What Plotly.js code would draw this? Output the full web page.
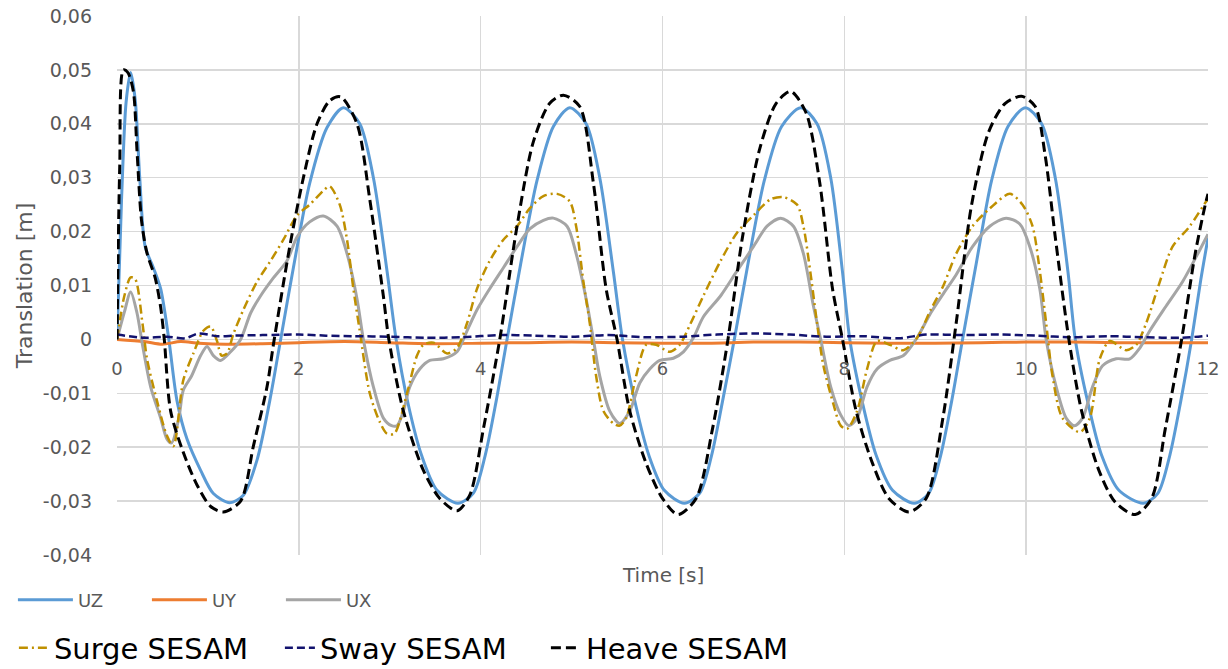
<!DOCTYPE html>
<html><head><meta charset="utf-8">
<script src="https://cdn.plot.ly/plotly-3.0.1.min.js"></script>
<style>html,body{margin:0;padding:0;background:#fff}</style>
</head><body>
<div id="chart" style="width:1228px;height:669px"></div>
<script>
// ---- data ----
const uzT = [0,0.05,0.10,0.15,0.20,0.25,0.31,0.40,0.48,0.57,0.66,0.77,0.92,1.06,1.24,1.39,1.54,1.68,1.80,1.94,2.12,2.31,2.49,2.67,2.82,2.97,3.07,3.20,3.35,3.52,3.75,3.92,4.05,4.17,4.29,4.44,4.62,4.80,4.98,5.16,5.31,5.46,5.56,5.70,5.85,6.02,6.24,6.41,6.54,6.66,6.79,6.94,7.12,7.31,7.52,7.70,7.85,7.98,8.06,8.20,8.35,8.53,8.77,8.93,9.06,9.18,9.30,9.45,9.62,9.80,9.99,10.17,10.32,10.46,10.54,10.68,10.83,11.02,11.29,11.45,11.58,11.70,11.82,11.92,12.00];
const uzV = [0,0.026,0.044,0.0495,0.0445,0.030,0.0172,0.0133,0.0094,0,-0.0114,-0.0185,-0.0243,-0.0286,-0.0303,-0.0289,-0.0224,-0.0114,0,0.0133,0.029,0.0393,0.043,0.040,0.030,0.0127,0,-0.0118,-0.0215,-0.0280,-0.0304,-0.0285,-0.0215,-0.0115,0,0.0140,0.0295,0.0395,0.043,0.040,0.030,0.0125,0,-0.0118,-0.0215,-0.0280,-0.0304,-0.0285,-0.0215,-0.0115,0,0.0140,0.0295,0.0395,0.043,0.040,0.030,0.0125,0,-0.0118,-0.0215,-0.0280,-0.0304,-0.0285,-0.0215,-0.0115,0,0.0140,0.0295,0.0395,0.043,0.040,0.030,0.0125,0,-0.0118,-0.0215,-0.0280,-0.0304,-0.0285,-0.0215,-0.0115,0,0.011,0.0188];

const uyT = [0,0.3,0.5,0.7,0.9,1.2,1.6,2.0,2.5,3.0,3.5,4.0,4.5,5.0,5.5,6.0,6.5,7.0,7.5,8.0,8.5,9.0,9.5,10.0,10.5,11.0,11.5,12.0];
const uyV = [0,-0.0004,-0.0009,-0.0004,-0.0007,-0.0009,-0.0008,-0.0006,-0.0004,-0.0006,-0.0008,-0.0007,-0.0006,-0.0005,-0.0006,-0.0007,-0.0007,-0.0005,-0.0005,-0.0006,-0.0007,-0.0007,-0.0006,-0.0005,-0.0005,-0.0006,-0.0006,-0.0006];

const uxT = [0,0.08,0.15,0.22,0.28,0.37,0.48,0.55,0.60,0.68,0.73,0.82,0.92,0.99,1.06,1.14,1.25,1.36,1.47,1.58,1.72,1.87,1.98,2.12,2.27,2.42,2.53,2.64,2.71,2.82,2.93,3.02,3.08,3.15,3.22,3.33,3.44,3.59,3.74,3.85,3.96,4.10,4.25,4.40,4.54,4.69,4.80,4.95,5.05,5.16,5.24,5.31,5.42,5.53,5.64,5.75,5.86,5.97,6.12,6.23,6.34,6.45,6.64,6.82,7.00,7.15,7.30,7.44,7.55,7.66,7.74,7.85,7.96,8.05,8.14,8.25,8.36,8.50,8.65,8.80,8.95,9.09,9.23,9.41,9.60,9.78,9.93,10.04,10.15,10.22,10.33,10.44,10.53,10.62,10.73,10.84,10.99,11.14,11.25,11.36,11.54,11.72,11.91,12.00];
const uxV = [0,0.005,0.0088,0.0049,-0.001,-0.0088,-0.0146,-0.0185,-0.0192,-0.0146,-0.0094,-0.0068,-0.003,-0.0013,-0.003,-0.0039,-0.0023,0,0.0049,0.0081,0.0114,0.0146,0.019,0.0218,0.0229,0.021,0.0159,0.0075,0,-0.0088,-0.0146,-0.016,-0.016,-0.0133,-0.0088,-0.0055,-0.0039,-0.0036,-0.0023,0.0016,0.0055,0.0094,0.0133,0.0172,0.0205,0.0221,0.0225,0.021,0.0159,0.0075,0,-0.0068,-0.0133,-0.0156,-0.0133,-0.0081,-0.0055,-0.0039,-0.0035,-0.0023,0.0003,0.0042,0.0081,0.0127,0.0172,0.021,0.0225,0.021,0.0159,0.0062,0,-0.0088,-0.014,-0.016,-0.0146,-0.0088,-0.0055,-0.0039,-0.003,0.0003,0.0049,0.0085,0.012,0.0172,0.021,0.0225,0.0214,0.0172,0.0094,0,-0.0088,-0.0146,-0.016,-0.0146,-0.0088,-0.0049,-0.0036,-0.0036,-0.0016,0.0016,0.0062,0.0107,0.0166,0.0195];

const surgeT = [0,0.08,0.15,0.20,0.28,0.33,0.44,0.55,0.62,0.73,0.84,0.95,1.03,1.10,1.15,1.21,1.28,1.39,1.54,1.69,1.83,1.98,2.12,2.27,2.34,2.45,2.53,2.60,2.67,2.78,2.89,2.97,3.05,3.19,3.30,3.37,3.48,3.63,3.74,3.85,3.96,4.10,4.25,4.40,4.54,4.69,4.84,4.98,5.05,5.13,5.20,5.27,5.35,5.46,5.53,5.60,5.71,5.82,5.93,6.08,6.19,6.31,6.45,6.64,6.82,7.00,7.19,7.33,7.48,7.55,7.63,7.70,7.77,7.88,7.96,8.03,8.14,8.25,8.36,8.50,8.65,8.80,8.95,9.09,9.23,9.41,9.60,9.82,9.96,10.07,10.15,10.22,10.29,10.40,10.59,10.70,10.81,10.92,11.10,11.21,11.32,11.47,11.61,11.80,11.98,12.00];
const surgeV = [0,0.008,0.0115,0.0112,0.003,-0.0036,-0.0114,-0.0179,-0.0198,-0.0075,-0.0026,0.0016,0.0024,-0.0003,-0.003,-0.0026,0.001,0.0055,0.0107,0.0146,0.0185,0.023,0.025,0.0276,0.0284,0.025,0.0185,0.0094,0.0016,-0.010,-0.0153,-0.0175,-0.0175,-0.010,-0.003,-0.001,-0.0006,-0.0026,-0.0016,0.003,0.0094,0.0146,0.0185,0.021,0.0243,0.0266,0.027,0.0256,0.021,0.0107,0.003,-0.0068,-0.0133,-0.0156,-0.016,-0.0146,-0.0068,-0.001,-0.001,-0.0023,-0.001,0.003,0.0081,0.0146,0.0198,0.023,0.026,0.0264,0.025,0.021,0.012,0.003,-0.0049,-0.012,-0.016,-0.0166,-0.0133,-0.0055,-0.0003,-0.001,-0.002,0.0003,0.0055,0.010,0.0159,0.021,0.0243,0.027,0.025,0.021,0.0127,0.003,-0.0068,-0.0146,-0.0172,-0.0146,-0.0036,-0.0003,-0.002,-0.001,0.003,0.0107,0.0172,0.021,0.0256,0.026];

const swayT = [0,0.3,0.55,0.75,0.9,1.1,1.3,1.6,2.0,2.3,2.6,3.0,3.4,3.8,4.2,4.6,5.0,5.4,5.8,6.2,6.6,7.0,7.4,7.8,8.2,8.6,8.9,9.3,9.7,10.1,10.5,10.9,11.3,11.7,12.0];
const swayV = [0.0009,0.0003,0.0005,0.0002,0.0011,0.0006,0.0007,0.0008,0.0009,0.0007,0.0006,0.0005,0.0003,0.0004,0.0008,0.0007,0.0005,0.0008,0.0004,0.0005,0.0009,0.0011,0.0009,0.0005,0.0006,0.0002,0.0009,0.0008,0.0009,0.0007,0.0004,0.0006,0.0004,0.0003,0.0007];

const heaveT = [0,0.03,0.07,0.12,0.18,0.22,0.27,0.33,0.42,0.48,0.52,0.59,0.73,0.88,1.03,1.17,1.36,1.50,1.65,1.72,1.90,2.05,2.20,2.34,2.46,2.64,2.78,2.93,2.99,3.15,3.37,3.55,3.74,3.88,4.03,4.21,4.40,4.58,4.76,4.91,5.09,5.24,5.38,5.50,5.64,5.82,6.00,6.17,6.37,6.55,6.72,6.88,7.07,7.25,7.41,7.58,7.73,7.87,7.98,8.13,8.31,8.49,8.71,8.90,9.08,9.23,9.40,9.59,9.77,9.95,10.10,10.21,10.32,10.47,10.61,10.80,10.98,11.20,11.38,11.53,11.71,11.86,11.97,12.00];
const heaveV = [0,0.032,0.050,0.0495,0.046,0.035,0.022,0.016,0.0114,0.006,0,-0.0133,-0.021,-0.027,-0.031,-0.032,-0.030,-0.0198,-0.0088,-0.001,0.0172,0.030,0.040,0.0443,0.0450,0.040,0.026,0.008,0,-0.0133,-0.0243,-0.0295,-0.0318,-0.0289,-0.0166,0,0.021,0.0367,0.0438,0.0453,0.0432,0.029,0.0094,0,-0.0133,-0.023,-0.0295,-0.0325,-0.0295,-0.0166,0,0.019,0.0354,0.0438,0.046,0.042,0.029,0.0094,0,-0.0133,-0.023,-0.0295,-0.032,-0.0295,-0.015,0.003,0.025,0.0386,0.0438,0.0451,0.0432,0.034,0.019,0,-0.0133,-0.0243,-0.0302,-0.0325,-0.0295,-0.0166,0,0.016,0.025,0.027];

const xTickVals = [0,2,4,6,8,10,12];
const xTickText = ['0','2','4','6','8','10','12'];
const yTickVals = [-0.04,-0.03,-0.02,-0.01,0,0.01,0.02,0.03,0.04,0.05,0.06];
const yTickText = ['-0,04','-0,03','-0,02','-0,01','0','0,01','0,02','0,03','0,04','0,05','0,06'];

const FONT = 'DejaVu Sans';
const GRAY = '#595959';

function tr(name, x, y, color, width, dash, legend) {
  return {
    type: 'scatter', mode: 'lines', name: name, x: x, y: y,
    line: {color: color, width: width, dash: dash, shape: 'spline', smoothing: 0.8},
    legend: legend, hoverinfo: 'skip'
  };
}

const traces = [
  tr('UZ', uzT, uzV, '#5B9BD5', 3, 'solid', 'legend'),
  tr('UY', uyT, uyV, '#ED7D31', 3, 'solid', 'legend'),
  tr('UX', uxT, uxV, '#A5A5A5', 3, 'solid', 'legend'),
  tr('Surge SESAM', surgeT, surgeV, '#BF9000', 2.5, '9px,4px,2px,4px', 'legend2'),
  tr('Sway SESAM', swayT, swayV, '#12126E', 2.5, '8px,4px', 'legend2'),
  tr('Heave SESAM', heaveT, heaveV, '#000000', 3, '10px,5px', 'legend2')
];

const layout = {
  width: 1228, height: 669,
  margin: {l: 117, r: 20, t: 16, b: 114, autoexpand: false},
  paper_bgcolor: '#ffffff', plot_bgcolor: '#ffffff',
  font: {family: FONT, color: GRAY},
  showlegend: true,
  xaxis: {
    range: [0, 12], anchor: 'free', position: 0.4,
    tickvals: xTickVals, ticktext: xTickText,
    showgrid: true, gridcolor: '#d9d9d9', gridwidth: 1.5,
    zeroline: false, showline: false, ticks: '',
    ticklabelstandoff: 17,
    tickfont: {family: FONT, size: 18, color: GRAY}
  },
  yaxis: {
    range: [-0.04, 0.06],
    tickvals: yTickVals, ticktext: yTickText,
    showgrid: true, gridcolor: '#d9d9d9', gridwidth: 1.5,
    zeroline: false, showline: false, ticks: '',
    ticklabelstandoff: 24,
    tickfont: {family: FONT, size: 19, color: GRAY},
    title: {text: 'Translation [m]', font: {family: FONT, size: 22, color: GRAY}, standoff: 4}
  },
  annotations: [{
    text: 'Time [s]', xref: 'paper', yref: 'paper', x: 0.5, y: 0,
    xanchor: 'center', yanchor: 'middle', yshift: -20, showarrow: false,
    font: {family: FONT, size: 20, color: GRAY}
  }],
  legend: {
    orientation: 'h', x: -0.0954, xanchor: 'left', y: -0.0835, yanchor: 'middle',
    bgcolor: 'rgba(0,0,0,0)', itemwidth: 55, entrywidth: 64, entrywidthmode: 'pixels',
    font: {family: FONT, size: 18, color: GRAY}, traceorder: 'normal'
  },
  legend2: {
    orientation: 'h', x: -0.0945, xanchor: 'left', y: -0.1725, yanchor: 'middle',
    bgcolor: 'rgba(0,0,0,0)', itemwidth: 30, entrywidth: 221, entrywidthmode: 'pixels',
    font: {family: FONT, size: 29, color: '#000000'}, traceorder: 'normal'
  }
};

Plotly.newPlot('chart', traces, layout, {displayModeBar: false, staticPlot: true});
</script>
</body></html>
